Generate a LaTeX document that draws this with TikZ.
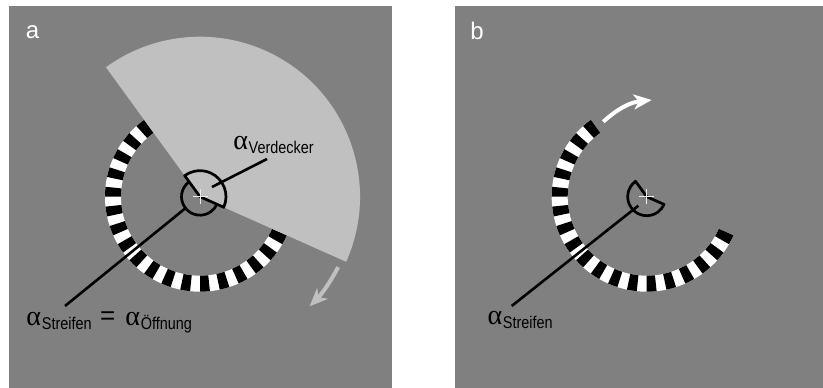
\documentclass[tikz,border=0pt]{standalone}
\usepackage{fontspec}
\usepackage{graphicx}
\setmainfont{Liberation Sans}
\newfontfamily\lsans{Liberation Sans}
\newfontfamily\lserif{Liberation Serif}
\usetikzlibrary{arrows.meta}
\definecolor{bggray}{HTML}{808080}
\definecolor{occl}{HTML}{C0C0C0}
\newcommand\alab[1]{\makebox[15.4pt][l]{\lserif\fontsize{28}{28}\selectfont α}\raisebox{-4pt}{\lsans\fontsize{17}{17}\selectfont\scalebox{0.85}[1]{#1}}}
\begin{document}
\begin{tikzpicture}[x=1pt,y=1pt,
  panel/.style={fill=bggray},
  marker/.style={draw=black,line width=2.7pt,line join=round},
  leader/.style={draw=black,line width=2.6pt},
  lab/.style={inner sep=0pt,outer sep=0pt,anchor=base west,text=black},
  plab/.style={inner sep=0pt,anchor=base west,text=white,font=\lsans\fontsize{24}{24}\selectfont},
  fix/.style={draw=white!85!gray,line width=1pt},
  rotarrow/.style={line width=4pt,-{Stealth[length=18pt,width=15pt,inset=5pt]}},
]
\useasboundingbox (0,0) rectangle (823,388);
\fill[white] (0,0) rectangle (823,388);
\fill[panel] (9,0) rectangle (392,382);
\fill[panel] (455,0) rectangle (823,382);

\coordinate (CA) at (200,191.3);
\coordinate (CB) at (646.7,191.3);

% striped rings
\foreach \c in {CA,CB}{
 \begin{scope}[shift={(\c)}]
 \fill[white] (126:79) arc[start angle=126,end angle=336,radius=79] -- (336:95) arc[start angle=336,end angle=126,radius=95] -- cycle;
 \foreach \k in {0,...,17}{
   \pgfmathsetmacro\ta{126+12*\k}
   \pgfmathsetmacro\tb{\ta+6}
   \fill[black] (\ta:79) arc[start angle=\ta,end angle=\tb,radius=79] -- (\tb:95) arc[start angle=\tb,end angle=\ta,radius=95] -- cycle;
 }
 \end{scope}
}

% occluder sector (panel a)
\fill[occl] (CA) -- ++(-24:160) arc[start angle=-24,end angle=126,radius=160] -- cycle;

% angle markers
\begin{scope}[shift={(CA)}]
 \draw[marker] (0,0) -- (-24:26) arc[start angle=-24,end angle=126,radius=26] -- cycle;
 \draw[marker] (126:18.5) arc[start angle=126,end angle=336,radius=18.5];
\end{scope}
\begin{scope}[shift={(CB)}]
 \draw[marker] (0,0) -- (126:19) arc[start angle=126,end angle=336,radius=19] -- cycle;
\end{scope}

% leader lines
\coordinate (sa1) at (65,82);
\coordinate (sa2) at (185.5,179.8);
\coordinate (va1) at (212,201);
\coordinate (va2) at (267,229);
\coordinate (sb1) at (511.7,82);
\coordinate (sb2) at (638.3,182.3);
\draw[leader] (sa1) -- (sa2);
\draw[leader] (va1) -- (va2);
\draw[leader] (sb1) -- (sb2);

% fixation crosses
\foreach \c in {CA,CB}{
 \draw[fix] ([xshift=-7.5pt]\c) -- ([xshift=7.5pt]\c);
 \draw[fix] ([yshift=-7.5pt]\c) -- ([yshift=7.5pt]\c);
}

% rotation arrows
\coordinate (arA1) at (338.1,120.9);
\draw[rotarrow,occl] (arA1) arc[start angle=-27,end angle=-45,radius=155];
\coordinate (arB1) at (603.3,266.3);
\coordinate (arB2) at (651.7,288);
\draw[rotarrow,white] (arB1) to[bend left=18] (arB2);

% labels
\node[lab] (lsa) at (26.5,62) {\alab{Streifen}\hspace{9.4pt}\raisebox{1pt}{\makebox[13pt]{\lsans\fontsize{26}{26}\selectfont =}}\hspace{11.3pt}\alab{Öffnung}};
\node[lab] (lva) at (233.3,238) {\alab{Verdecker}};
\node[lab] (lsb) at (487.5,63) {\alab{Streifen}};
\node[plab] (pa) at (25.8,349.5) {a};
\node[plab] (pb) at (470.2,348) {b};
\end{tikzpicture}
\end{document}
